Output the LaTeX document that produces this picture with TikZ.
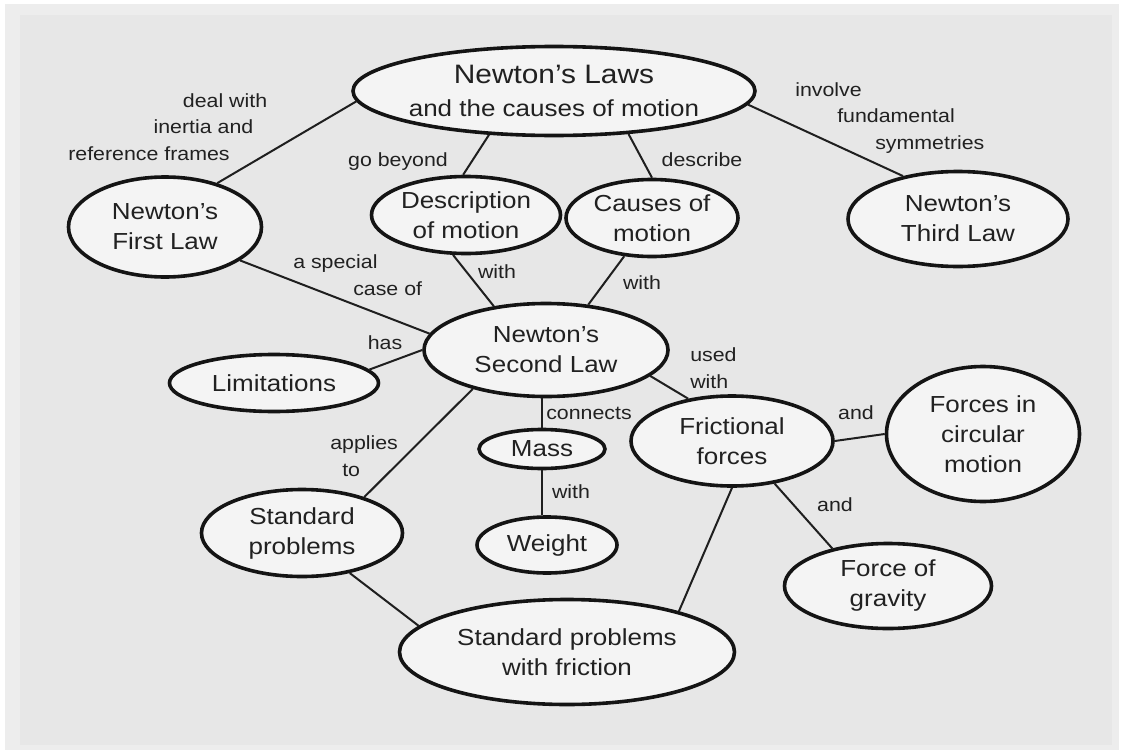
\documentclass[tikz,border=0pt]{standalone}
\usepackage{fontspec}
\setmainfont{Liberation Sans}[FakeStretch=1.12]
\usepackage{xcolor}
\definecolor{paper}{gray}{0.93}
\definecolor{panel}{gray}{0.905}
\definecolor{bubble}{gray}{0.955}
\usetikzlibrary{shapes.geometric}
\tikzset{
  cn/.style={ellipse, draw=black!92, fill=bubble, line width=2.7pt, align=center,
             inner sep=0pt, text=black!87, font={\fontsize{17.4}{22.5}\selectfont}},
  lk/.style={inner sep=0pt, text=black!87, font={\fontsize{14.3}{19.9}\selectfont}},
  ln/.style={draw=black!88, line width=1.5pt},
}

\begin{document}
\begin{tikzpicture}[x=0.75pt, y=-0.75pt]
  \useasboundingbox (0,0) rectangle (1122,753);
  \fill[white] (0,0) rectangle (1122,753);
  \fill[paper] (5,4) rectangle (1119,750);
  \fill[panel] (20,15) rectangle (1112,745);

  \node[cn, minimum width=301.5pt, minimum height=66.75pt, inner xsep=-4pt] (law) at (554,91)
    {{\fontsize{20}{25}\selectfont Newton's Laws}\\[2.25pt]and the causes of motion};
  \node[cn, minimum width=144.75pt, minimum height=75pt] (first) at (165,227) {Newton's\\First Law};
  \node[cn, minimum width=141.75pt, minimum height=57.75pt] (desc) at (466,215) {Description\\of motion};
  \node[cn, minimum width=129pt, minimum height=57.75pt] (cause) at (652,218) {Causes of\\motion};
  \node[cn, minimum width=165pt, minimum height=71.25pt] (third) at (958,219) {Newton's\\Third Law};
  \node[cn, minimum width=183pt, minimum height=69.75pt] (second) at (546,350) {Newton's\\Second Law};
  \node[cn, minimum width=156.75pt, minimum height=42.75pt] (limit) at (274,383) {Limitations};
  \node[cn, minimum width=94.5pt, minimum height=29.25pt] (mass) at (542,449) {Mass};
  \node[cn, minimum width=105pt, minimum height=42pt] (weight) at (547,545) {Weight};
  \node[cn, minimum width=151.5pt, minimum height=67.5pt] (fric) at (732,441) {Frictional\\forces};
  \node[cn, minimum width=144.75pt, minimum height=101.25pt] (circ) at (983,434) {Forces in\\circular\\motion};
  \node[cn, minimum width=155.25pt, minimum height=63.75pt] (grav) at (888,586) {Force of\\gravity};
  \node[cn, minimum width=150.75pt, minimum height=65.25pt] (std) at (302,533) {Standard\\problems};
  \node[cn, minimum width=251.25pt, minimum height=78.75pt] (stdf) at (567,652) {Standard problems\\with friction};

  \draw[ln] (first.40) -- (law.183);
  \draw[ln] (law.214) -- (desc.94);
  \draw[ln] (law.330) -- (cause.90);
  \draw[ln] (law.356) -- (third.142);
  \draw[ln] (first.336) -- (second.172);
  \draw[ln] (desc.252) -- (second.140);
  \draw[ln] (cause.234) -- (second.47);
  \draw[ln] (limit.8) -- (second.180);
  \draw[ln] (mass.north) -- (mass.north |- second.south);
  \draw[ln] (mass.south) -- (mass.south |- weight.north);
  \draw[ln] (second.208) -- (std.30);
  \draw[ln] (second.346) -- (fric.136);
  \draw[ln] (fric.0) -- (circ.180);
  \draw[ln] (fric.315) -- (grav.146);
  \draw[ln] (fric.270) -- (stdf.20);
  \draw[ln] (std.320) -- (stdf.170);

  \node[lk, anchor=west, align=left] (dealwith) at (68,127)
    {\hspace*{86pt}deal with\\\hspace*{64pt}inertia and\\reference frames};
  \node[lk] (gobeyond) at (398,162) {go beyond};
  \node[lk] (describe) at (702,160) {describe};
  \node[lk, anchor=west, align=left] (involve) at (795,118)
    {involve\\\hspace*{31.5pt}fundamental\\\hspace*{60pt}symmetries};
  \node[lk, anchor=west, align=left] (special) at (293,275) {a special\\\hspace*{45pt}case of};
  \node[lk] (withdesc) at (497,272) {with};
  \node[lk] (withcause) at (642,283) {with};
  \node[lk] (has) at (385,343) {has};
  \node[lk, anchor=west, align=left] (usedwith) at (690,368) {used\\with};
  \node[lk] (connects) at (589,413) {connects};
  \node[lk, anchor=west, align=left] (applies) at (330,456) {applies\\\hspace*{9pt}to};
  \node[lk] (withmass) at (571,492) {with};
  \node[lk] (andcirc) at (856,413) {and};
  \node[lk] (andgrav) at (835,505) {and};
\end{tikzpicture}
\end{document}
